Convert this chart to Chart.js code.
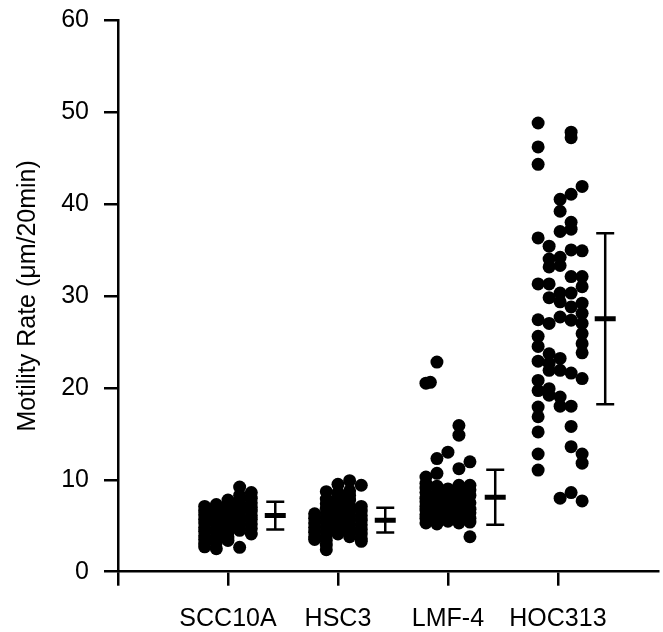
<!DOCTYPE html>
<html><head><meta charset="utf-8">
<script src="https://cdn.jsdelivr.net/npm/chart.js@4.4.1/dist/chart.umd.min.js"></script>
<style>html,body{margin:0;padding:0;background:#fff;}#wrap{width:663px;height:632px;}</style>
</head><body><div id="wrap"><canvas id="c" width="663" height="632"></canvas></div>
<script>
const categories = ['SCC10A', 'HSC3', 'LMF-4', 'HOC313'];
const yTickValues = [0, 10, 20, 30, 40, 50, 60];
const yAxisTitle = 'Motility Rate (\u03bcm/20min)';

// Individual cell motility rates, with the beeswarm bin (column) of each dot
const scc10aRates = [7.1,6.6,6.2,5.7,5.3,4.8,4.4,3.9,3.5,3.0,2.7,
                     7.3,6.9,6.4,6.0,5.5,5.1,4.6,4.2,3.7,3.2,2.5,
                     7.8,7.4,6.9,6.5,6.0,5.6,5.2,4.7,4.3,3.8,3.4,
                     9.2,8.3,7.8,7.3,6.8,6.4,5.9,5.5,5.0,4.5,2.65,
                     8.6,8.0,7.5,7.0,6.6,6.1,5.7,5.2,4.7,4.1];
const scc10aBins  = [-2,-2,-2,-2,-2,-2,-2,-2,-2,-2,-2,
                     -1,-1,-1,-1,-1,-1,-1,-1,-1,-1,-1,
                     0,0,0,0,0,0,0,0,0,0,0,
                     1,1,1,1,1,1,1,1,1,1,1,
                     2,2,2,2,2,2,2,2,2,2];

const hsc3Rates = [6.3,5.8,5.3,4.8,4.3,3.8,3.5,
                   8.7,7.9,7.4,6.9,6.4,5.9,5.4,4.9,4.4,3.9,3.4,2.9,2.4,
                   9.5,8.6,8.1,7.6,7.1,6.6,6.1,5.6,5.1,4.6,4.1,
                   9.9,8.8,8.3,7.8,7.2,6.7,6.2,5.7,5.2,4.7,4.2,3.8,
                   9.4,7.1,6.6,6.1,5.6,5.1,4.6,4.1,3.6,3.3];
const hsc3Bins  = [-2,-2,-2,-2,-2,-2,-2,
                   -1,-1,-1,-1,-1,-1,-1,-1,-1,-1,-1,-1,-1,
                   0,0,0,0,0,0,0,0,0,0,0,
                   1,1,1,1,1,1,1,1,1,1,1,1,
                   2,2,2,2,2,2,2,2,2,2];

const lmf4Rates = [20.5,10.3,9.6,9.1,8.6,8.0,7.6,7.1,6.7,6.2,5.8,5.3,
                   20.6,
                   22.8,12.3,10.7,9.3,8.5,8.1,7.4,7.0,6.5,6.0,5.6,5.2,
                   13.0,9.0,8.4,7.8,7.3,6.9,6.3,5.9,5.5,
                   15.9,14.85,11.2,9.4,8.7,8.2,7.7,7.2,6.6,6.1,5.7,5.3,
                   11.95,9.4,8.9,8.3,7.5,6.8,6.4,5.8,5.4,3.8];
const lmf4Bins  = [-2,-2,-2,-2,-2,-2,-2,-2,-2,-2,-2,-2,
                   -1.6,
                   -1,-1,-1,-1,-1,-1,-1,-1,-1,-1,-1,-1,
                   0,0,0,0,0,0,0,0,0,
                   1,1,1,1,1,1,1,1,1,1,1,1,
                   2,2,2,2,2,2,2,2,2,2];

const hoc313Rates = [48.8,46.2,44.3,36.3,31.3,27.4,25.6,24.5,22.9,20.8,19.7,17.9,16.85,15.2,12.8,11.05,
                     35.4,34.0,33.15,31.3,29.8,27.0,23.7,22.65,21.9,19.9,19.2,
                     40.5,39.2,37.0,34.2,33.3,30.3,29.35,27.7,23.2,21.9,19.0,18.0,8.0,
                     47.8,47.2,41.05,38.0,37.25,35.0,32.1,30.3,28.8,27.35,21.6,18.0,15.8,13.6,8.6,
                     41.9,34.9,32.1,31.0,29.2,28.1,27.0,25.9,24.8,23.8,21.0,12.8,11.8,7.7];
const hoc313Bins  = [-2,-2,-2,-2,-2,-2,-2,-2,-2,-2,-2,-2,-2,-2,-2,-2,
                     -1,-1,-1,-1,-1,-1,-1,-1,-1,-1,-1,
                     0,0,0,0,0,0,0,0,0,0,0,0,0,
                     1,1,1,1,1,1,1,1,1,1,1,1,1,1,1,
                     2,2,2,2,2,2,2,2,2,2,2,2,2,2];

const groupMeans = [6.1, 5.6, 8.1, 27.5];
const groupSDs   = [1.5, 1.35, 3.0, 9.3];

// ---- styling / layout ----
const FONT = { family: "'Liberation Sans', Arial, Helvetica, sans-serif", size: 25 };
const binWidth = [0.106, 0.106, 0.1, 0.1];
const binShift = [0, 0, 0, 0.02];
const barOffset = 0.43;

const groups = [[scc10aRates, scc10aBins], [hsc3Rates, hsc3Bins], [lmf4Rates, lmf4Bins], [hoc313Rates, hoc313Bins]];

const dotSets = groups.map(([rates, bins], g) => ({
  type: 'scatter',
  data: rates.map((v, i) => ({ x: g + 1 + bins[i] * binWidth[g] + binShift[g], y: v })),
  pointRadius: 6.5, pointHoverRadius: 6.5,
  pointBackgroundColor: '#000', pointBorderWidth: 0, pointBorderColor: '#000',
  showLine: false
}));

const errLines = groupMeans.map((m, g) => ({
  type: 'line',
  data: [{ x: g + 1 + barOffset, y: m - groupSDs[g] }, { x: g + 1 + barOffset, y: m + groupSDs[g] }],
  borderColor: '#000', borderWidth: 2.5, pointRadius: 0, fill: false
}));

const capSet = {
  type: 'scatter',
  data: groupMeans.flatMap((m, g) => [
    { x: g + 1 + barOffset, y: m - groupSDs[g] },
    { x: g + 1 + barOffset, y: m + groupSDs[g] }
  ]),
  pointStyle: 'line', pointRadius: 9, pointHoverRadius: 9,
  pointBorderColor: '#000', pointBorderWidth: 2.5, showLine: false
};

const meanSet = {
  type: 'scatter',
  data: groupMeans.map((m, g) => ({ x: g + 1 + barOffset, y: m })),
  pointStyle: 'line', pointRadius: 10.5, pointHoverRadius: 10.5,
  pointBorderColor: '#000', pointBorderWidth: 5, showLine: false
};

const axisGrid = { drawOnChartArea: false, drawTicks: true, tickLength: 14, color: '#000', lineWidth: 2.5 };
const axisBorder = { display: true, color: '#000', width: 2.5 };

new Chart(document.getElementById('c'), {
  type: 'scatter',
  data: { datasets: [...dotSets, ...errLines, capSet, meanSet] },
  options: {
    responsive: false, animation: false, events: [],
    layout: { autoPadding: false, padding: { top: 20, right: 5, left: 0, bottom: 0 } },
    plugins: { legend: { display: false }, tooltip: { enabled: false } },
    scales: {
      x: {
        type: 'linear', position: 'bottom', min: 0, max: 4.91,
        afterBuildTicks: s => { s.ticks = [0, 1, 2, 3, 4].map(v => ({ value: v })); },
        afterFit: s => { s.height = 60.3; s.paddingLeft = 0; s.paddingRight = 0; },
        ticks: { autoSkip: false, maxRotation: 0, minRotation: 0, padding: 18, color: '#000', font: FONT,
                 callback: v => categories[v - 1] ?? '' },
        grid: axisGrid, border: axisBorder
      },
      y: {
        type: 'linear', min: 0, max: 60,
        afterBuildTicks: s => { s.ticks = yTickValues.map(v => ({ value: v })); },
        afterFit: s => { s.width = 118; s.paddingTop = 0; s.paddingBottom = 0; },
        ticks: { padding: 15, color: '#000', font: FONT },
        grid: axisGrid, border: axisBorder,
        title: { display: true, text: yAxisTitle, color: '#000', font: FONT, padding: { top: 13, bottom: 0 } }
      }
    }
  }
});
</script></body></html>
